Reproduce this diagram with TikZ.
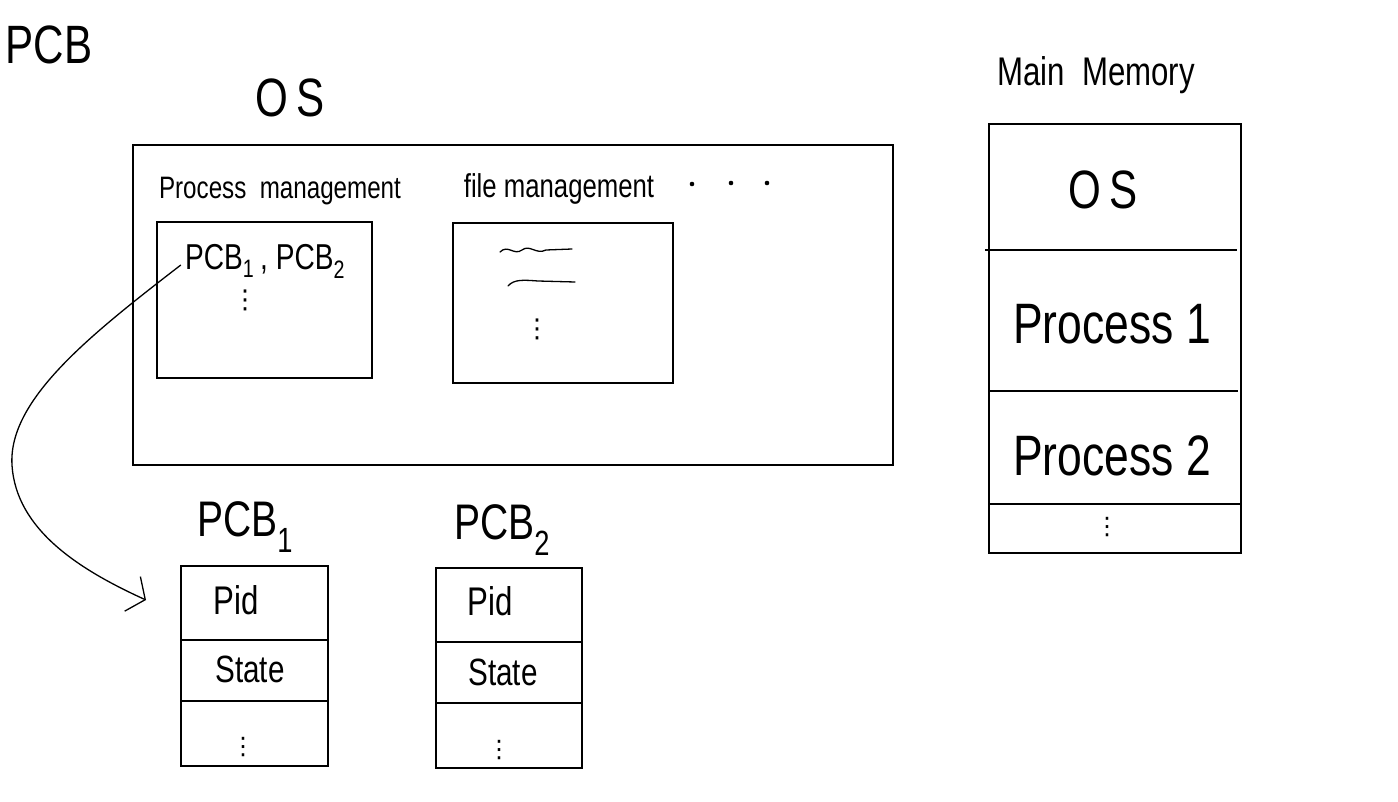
\documentclass[tikz,border=0pt]{standalone}
\usepackage{fontspec}
\setmainfont{Liberation Sans}[FakeStretch=0.78]
\newfontfamily\dotsfont{DejaVu Sans}
\usetikzlibrary{arrows.meta}
\newcommand\fsz[1]{\fontsize{#1}{#1}\selectfont}
\newcommand\vdt{{\dotsfont ⋮}}
\begin{document}
\begin{tikzpicture}[x=1pt,y=-1pt,
  box/.style={draw, line width=1.4pt, inner sep=0pt},
  lbl/.style={inner sep=0pt, anchor=center},
  rule/.style={line width=1.4pt},
  ink/.style={line width=1.3pt, line cap=round}]
\useasboundingbox[fill=white] (0,0) rectangle (1398,802);

% titles
\node[lbl, font=\fsz{54}] (title) at (49,45) {PCB};
\node[lbl, font=\fsz{54}] (oslbl) at (290,98) {O\hspace{8pt}S};

% OS box
\node[box, minimum width=760pt, minimum height=320pt] (osbox) at (513,305) {};
\node[lbl, font=\fsz{31}] (pm) at (280,191) {Process\ \ management};
\node[lbl, font=\fsz{33}] (fm) at (559,189) {file management};
\fill (692,184) circle (2.3) (731,183) circle (2.3) (767,183) circle (2.3);

\node[box, minimum width=215pt, minimum height=156pt] (pmbox) at (264.5,300) {};
\node[lbl, font=\fsz{36}] (pcbs) at (265,261) {PCB\textsubscript{1}\,, PCB\textsubscript{2}};
\node[lbl, font=\fsz{26}] (pmdots) at (245,300) {\vdt};

\node[box, minimum width=220pt, minimum height=160pt] (fmbox) at (563,303) {};
\draw[ink] (500,252) .. controls (508,244) and (514,256) .. (522,250)
  .. controls (530,244) and (536,255) .. (546,250) -- (572,249);
\draw[ink] (508,286) .. controls (514,279) and (524,280) .. (538,281) -- (575,282);
\node[lbl, font=\fsz{26}] (fmdots) at (537,329) {\vdt};

% PCB1
\node[lbl, font=\fsz{50}] (pcb1lbl) at (245,527) {PCB\textsubscript{1}};
\node[box, minimum width=147pt, minimum height=200pt] (pcb1box) at (254.5,666) {};
\draw[rule] (pcb1box.west |- 0,640) -- (pcb1box.east |- 0,640);
\draw[rule] (pcb1box.west |- 0,701) -- (pcb1box.east |- 0,701);
\node[lbl, font=\fsz{40}] (pid1) at (236,600) {Pid};
\node[lbl, font=\fsz{38}] (st1) at (250,669) {State};
\node[lbl, font=\fsz{24}] (d1) at (243,747) {\vdt};

% PCB2
\node[lbl, font=\fsz{50}] (pcb2lbl) at (502,530) {PCB\textsubscript{2}};
\node[box, minimum width=146pt, minimum height=200pt] (pcb2box) at (509,668) {};
\draw[rule] (pcb2box.west |- 0,642) -- (pcb2box.east |- 0,642);
\draw[rule] (pcb2box.west |- 0,703) -- (pcb2box.east |- 0,703);
\node[lbl, font=\fsz{40}] (pid2) at (490,601) {Pid};
\node[lbl, font=\fsz{38}] (st2) at (503,672) {State};
\node[lbl, font=\fsz{24}] (d2) at (499,750) {\vdt};

% arrow
\coordinate (arrowend) at (146,600);
\draw[line width=1.3pt, -{Straight Barb[length=14pt,width=38pt,line width=1.3pt]}]
  ([xshift=-4pt,yshift=-4pt]pcbs.west) .. controls (90,335) and (8,400) .. (12,465)
  .. controls (16,530) and (80,570) .. (arrowend);

% Main memory
\node[lbl, font=\fsz{40}] (mmlbl) at (1096,75) {Main\ \ Memory};
\node[box, minimum width=252pt, minimum height=429pt] (membox) at (1115,338.5) {};
\draw[rule] (985,250) -- (1237,250);
\draw[rule] (membox.west |- 0,391) -- (1238,391);
\draw[rule] (membox.west |- 0,504) -- (membox.east |- 0,504);
\node[lbl, font=\fsz{54}] (mos) at (1103,190) {O\hspace{8pt}S};
\node[lbl, font=\fsz{57}] (p1) at (1112,324) {Process 1};
\node[lbl, font=\fsz{57}] (p2) at (1112,456) {Process 2};
\node[lbl, font=\fsz{24}] (md) at (1107,527) {\vdt};
\end{tikzpicture}
\end{document}
